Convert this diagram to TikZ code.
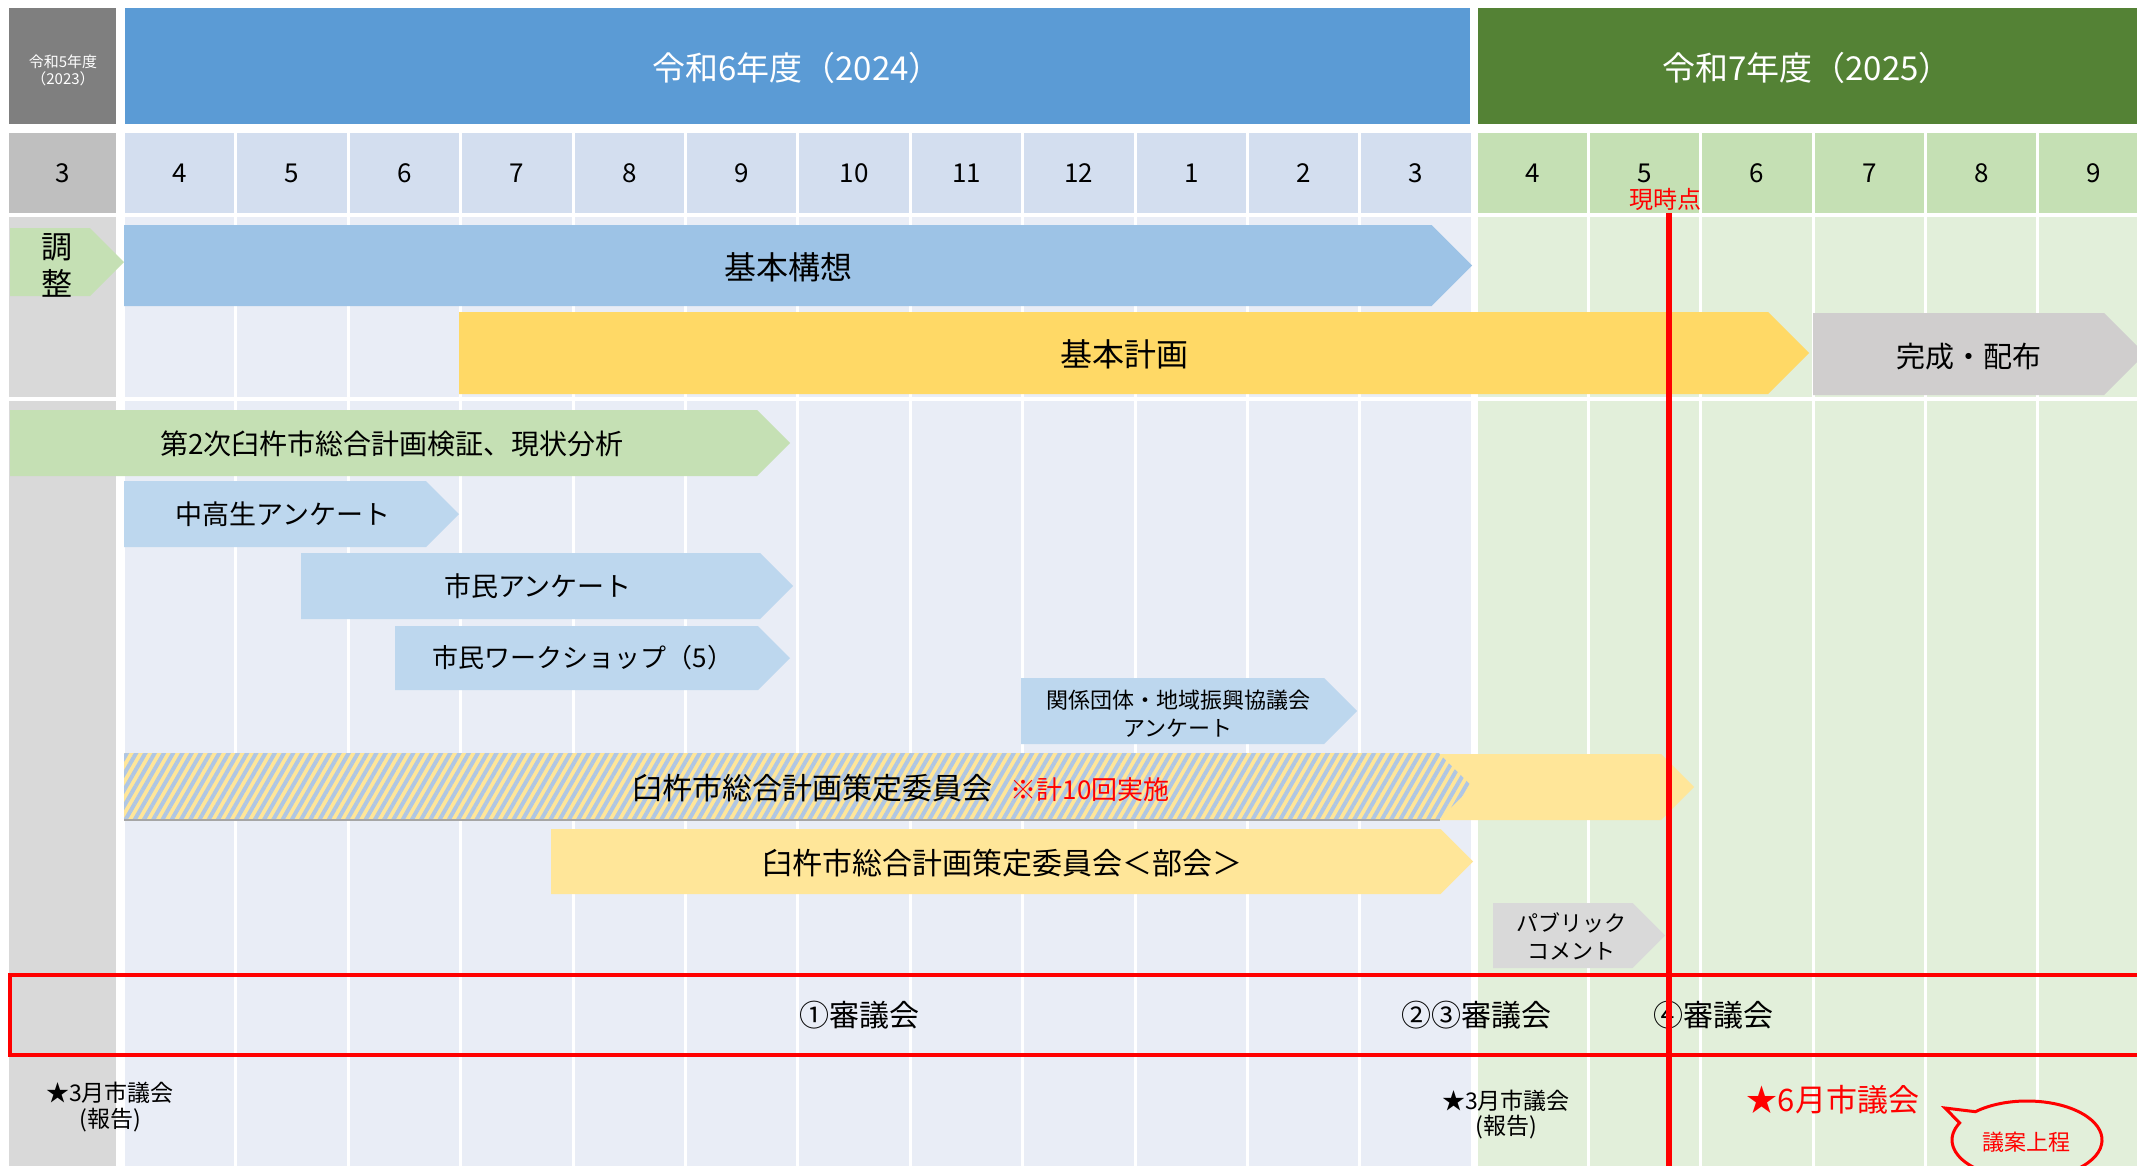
\documentclass[tikz,border=0pt]{standalone}
\usepackage{fontspec}
\newfontfamily\jp{Noto Sans CJK JP}
\usetikzlibrary{patterns.meta}
\definecolor{hdrgray}{HTML}{7F7F7F}
\definecolor{hdrblue}{HTML}{5B9BD5}
\definecolor{hdrgreen}{HTML}{548235}
\definecolor{monthree}{HTML}{BFBFBF}
\definecolor{monblue}{HTML}{D3DEEF}
\definecolor{mongreen}{HTML}{C5E0B4}
\definecolor{bodygray}{HTML}{D9D9D9}
\definecolor{bodyblue}{HTML}{E9EDF6}
\definecolor{bodygreen}{HTML}{E2EFDA}
\definecolor{kousou}{HTML}{9DC3E6}
\definecolor{keikaku}{HTML}{FFD966}
\definecolor{kansei}{HTML}{D0CECE}
\definecolor{kenshou}{HTML}{C5E0B4}
\definecolor{survey}{HTML}{BDD7EE}
\definecolor{iinkai}{HTML}{FFE699}
\definecolor{hatchblue}{HTML}{AFC6E4}
\definecolor{pubgray}{HTML}{D9D9D9}
\newcommand\homeplate[5]{\fill[#1] (#2,#3) -- ({#4-(#5-#3)/2},#3) -- (#4,{(#3+#5)/2}) -- ({#4-(#5-#3)/2},#5) -- (#2,#5) -- cycle;}
\begin{document}
\begin{tikzpicture}[x=1pt,y=-1pt,
  fs/.style={font=\jp\fontsize{#1}{#1}\selectfont, inner sep=0pt},
  wt/.style={text=white},
  rd/.style={text=red}]
\useasboundingbox (0,0) rectangle (2137,1165);
\clip (0,0) rectangle (2137,1165);
\fill[white] (0,0) rectangle (2137,1165);
% header
\fill[hdrgray] (9,8) rectangle (116,124);
\fill[hdrblue] (125,8) rectangle (1470,124);
\fill[hdrgreen] (1478,8) rectangle (2145,124);
% month row and body columns
\fill[monthree] (9,133) rectangle (116,213);
\fill[bodygray] (9,217) rectangle (116,397);
\fill[bodygray] (9,401) rectangle (116,1170);
\foreach \i in {0,...,11}{
  \pgfmathsetmacro\xl{125+112.4*\i}
  \fill[monblue] (\xl,133) rectangle ++(109.4,80);
  \fill[bodyblue] (\xl,217) rectangle ++(109.4,180);
  \fill[bodyblue] (\xl,401) rectangle ++(109.4,770);
}
\foreach \j in {0,...,5}{
  \pgfmathsetmacro\xl{1478+112.2*\j}
  \fill[mongreen] (\xl,133) rectangle ++(109.2,80);
  \fill[bodygreen] (\xl,217) rectangle ++(109.2,180);
  \fill[bodygreen] (\xl,401) rectangle ++(109.2,770);
}
% header texts
\node[fs=15,wt] (h23a) at (63,62) {令和5年度};
\node[fs=15,wt] (h23b) at (63,79) {（2023）};
\node[fs=33,wt] (h24) at (797,68) {令和6年度（2024）};
\node[fs=33,wt] (h25) at (1807,68) {令和7年度（2025）};
\node[fs=26] (m3) at (63,173) {3};
\foreach \m [count=\i from 0] in {4,5,6,7,8,9,10,11,12,1,2,3}{
  \node[fs=26] (ma\i) at ({125+112.4*\i+54.7},173) {\m};
}
\foreach \m [count=\j from 0] in {4,5,6,7,8,9}{
  \node[fs=26] (mb\j) at ({1478+112.2*\j+54.6},173) {\m};
}
% bars
\homeplate{kenshou}{10}{228}{124}{296}
\homeplate{kousou}{124}{225}{1472}{306}
\homeplate{keikaku}{459}{312}{1809}{394}
\homeplate{kansei}{1813}{313}{2145}{395}
\homeplate{kenshou}{10}{410}{790}{476}
\homeplate{survey}{124}{481}{459}{547}
\homeplate{survey}{301}{553}{793}{619}
\homeplate{survey}{395}{626}{790}{690}
\homeplate{survey}{1021}{678}{1357}{744}
\homeplate{iinkai}{1300}{754}{1694}{820}
\homeplate{iinkai}{124}{753}{1472}{820}
\homeplate{pattern={Lines[angle=60,distance=8pt,line width=4pt]},pattern color=hatchblue}{124}{753}{1472}{820}
\coordinate (hbl) at (124,820);
\coordinate (hbr) at (1440,820);
\draw[gray!70,line width=1.5pt] (hbl) -- (hbr);
\homeplate{iinkai}{551}{829}{1473}{894}
\homeplate{pubgray}{1493}{903}{1665}{968}
% bar texts
\node[fs=31] (cho) at (57,247) {調};
\node[fs=31] (sei) at (57,283) {整};
\node[fs=32] (kousouT) at (788,267) {基本構想};
\node[fs=32] (keikakuT) at (1124,354) {基本計画};
\node[fs=29] (kanseiT) at (1969,357) {完成・配布};
\node[fs=28] (kenshouT) at (392,444) {第2次臼杵市総合計画検証、現状分析};
\node[fs=27] (chuT) at (283,514) {中高生アンケート};
\node[fs=27] (shiminT) at (538,586) {市民アンケート};
\node[fs=26] (wsT) at (583,658) {市民ワークショップ（5）};
\node[fs=22] (kanA) at (1178,700) {関係団体・地域振興協議会};
\node[fs=22] (kanB) at (1178,728) {アンケート};
\node[fs=30] (iinT) at (901,788) {臼杵市総合計画策定委員会\hspace{18pt}{\color{red}\fontsize{26}{26}\selectfont ※計10回実施}};
\node[fs=30] (bukaiT) at (1002,863) {臼杵市総合計画策定委員会＜部会＞};
\node[fs=22] (pubA) at (1571,923) {パブリック};
\node[fs=22] (pubB) at (1571,951) {コメント};
% council frame
\coordinate (fr1) at (10,975);
\coordinate (fr2) at (2170,1055);
\draw[red,line width=4pt] (fr1) rectangle (fr2);
\node[fs=30] (s1) at (859,1015) {①審議会};
\node[fs=30] (s23) at (1476,1015) {②③審議会};
\node[fs=30] (s4) at (1713,1015) {④審議会};
% current line
\coordinate (nowtop) at (1669,213);
\coordinate (nowbot) at (1669,1175);
\draw[red,line width=6pt] (nowtop) -- (nowbot);
\node[fs=24,rd] (now) at (1665,199) {現時点};
% city council notes
\node[fs=23] (g1a) at (110,1093) {★3月市議会};
\node[fs=23] (g1b) at (110,1120) {(報告)};
\node[fs=23] (g2a) at (1506,1101) {★3月市議会};
\node[fs=23] (g2b) at (1506,1127) {(報告)};
\node[fs=31,rd] (g3) at (1833,1100) {★6月市議会};
% speech bubble
\coordinate (tail) at (1945,1108);
\filldraw[fill=bodygreen,draw=red,line width=3pt,line join=miter]
  (1975.4,1111.7) arc[start angle=-133.5,end angle=206,x radius=75,y radius=39] -- (tail) -- cycle;
\node[fs=22,rd] (gian) at (2026,1142) {議案上程};
\end{tikzpicture}
\end{document}
